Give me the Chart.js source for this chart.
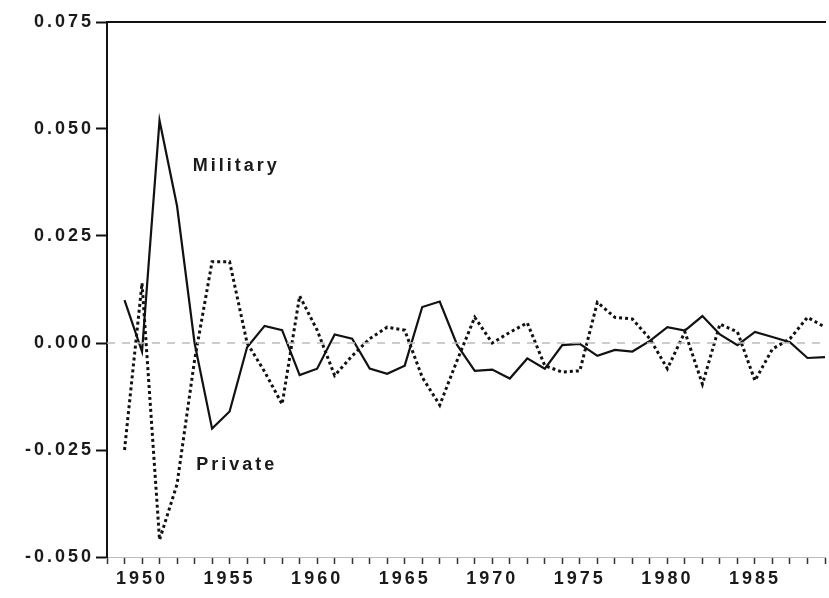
<!DOCTYPE html>
<html>
<head>
<meta charset="utf-8">
<script src="https://cdn.jsdelivr.net/npm/chart.js@4/dist/chart.umd.min.js"></script>
<style>
  body { margin: 0; background: #fff; }
  #wrap { width: 829px; height: 598px; }
</style>
</head>
<body>
<div id="wrap"><canvas id="c" width="829" height="598"></canvas></div>
<script>
// years on the x axis
const years = [1949,1950,1951,1952,1953,1954,1955,1956,1957,1958,1959,1960,1961,1962,1963,1964,1965,1966,1967,1968,
  1969,1970,1971,1972,1973,1974,1975,1976,1977,1978,1979,1980,1981,1982,1983,1984,1985,1986,1987,1988,1989];

// solid line
const military = [0.010,-0.002,0.052,0.032,0.000,-0.020,-0.016,-0.001,0.004,0.003,-0.0075,-0.006,0.002,0.001,-0.006,-0.0072,-0.0053,0.0084,0.0097,-0.0005,
  -0.0065,-0.0062,-0.0083,-0.0036,-0.006,-0.0005,-0.0002,-0.003,-0.0016,-0.002,0.0005,0.0037,0.0029,0.0063,0.002,-0.0005,0.0026,0.0014,0.0002,-0.0035,-0.0033];

// dotted line
const privateInv = [-0.025,0.014,-0.046,-0.033,-0.004,0.019,0.019,0.000,-0.0067,-0.0143,0.011,0.003,-0.0076,-0.003,0.001,0.0037,0.003,-0.008,-0.0145,-0.004,
  0.006,0.000,0.0025,0.0047,-0.0053,-0.0068,-0.0065,0.0095,0.006,0.0056,0.001,-0.006,0.0026,-0.0096,0.0044,0.0026,-0.0088,-0.0014,0.001,0.006,0.0037];

// zero reference line ends
const zeroLine = [{x: 1948, y: 0}, {x: 1989, y: 0}];

// axis ticks
const xRange = [1948, 1989];
const yTicks = [-0.050, -0.025, 0.000, 0.025, 0.050, 0.075];

// series names written inside the plot, with their data position
const seriesLabels = [
  {text: 'Military', x: 1952.9, y: 0.0413},
  {text: 'Private', x: 1953.1, y: -0.0285},
];

const TXT = '#1a1a1a';
const FAMILY = '"Liberation Sans", Arial, sans-serif';
const SPACING = '3px';

//글자 간격 (letter spacing) - canvas state is reset on resize so set it every time
const spacingPlugin = {
  id: 'spacing',
  beforeLayout(chart) { chart.ctx.letterSpacing = SPACING; },
  beforeDraw(chart) { chart.ctx.letterSpacing = SPACING; },
};

// names of the two series
const labelPlugin = {
  id: 'seriesLabels',
  afterDatasetsDraw(chart) {
    const {ctx, scales} = chart;
    ctx.save();
    ctx.letterSpacing = SPACING;
    ctx.font = 'bold 18px ' + FAMILY;
    ctx.fillStyle = TXT;
    ctx.textAlign = 'left';
    ctx.textBaseline = 'middle';
    seriesLabels.forEach(l => {
      ctx.fillText(l.text, scales.x.getPixelForValue(l.x), scales.y.getPixelForValue(l.y));
    });
    ctx.restore();
  }
};

new Chart(document.getElementById('c'), {
  type: 'line',
  data: {
    datasets: [
      {
        label: 'zero',
        data: zeroLine,
        borderColor: '#c4b8b8',
        borderWidth: 1.5,
        borderDash: [8, 7],
        pointRadius: 0,
      },
      {
        label: 'Military',
        data: years.map((y, i) => ({x: y, y: military[i]})),
        borderColor: '#111',
        borderWidth: 2.2,
        pointRadius: 0,
        tension: 0,
      },
      {
        label: 'Private',
        data: years.map((y, i) => ({x: y, y: privateInv[i]})),
        borderColor: '#111',
        borderWidth: 3,
        borderDash: [3, 3],
        pointRadius: 0,
        tension: 0,
      },
    ],
  },
  options: {
    responsive: false,
    animation: false,
    devicePixelRatio: 1,
    layout: { padding: { top: 22, left: 0, right: 0, bottom: 0 } },
    plugins: {
      legend: { display: false },
      tooltip: { enabled: false },
    },
    scales: {
      x: {
        type: 'linear',
        position: 'bottom',
        min: xRange[0],
        max: xRange[1],
        afterFit(scale) { scale.height = 41; },
        ticks: {
          stepSize: 1,
          autoSkip: false,
          maxRotation: 0,
          padding: 4,
          color: TXT,
          font: { family: FAMILY, size: 18, weight: 'bold' },
          callback: v => (v % 5 === 0 ? String(v) : ''),
        },
        grid: {
          drawOnChartArea: false,
          drawTicks: true,
          tickLength: 7,
          tickColor: '#333',
          tickWidth: 1.5,
        },
        border: { display: true, color: '#bbb', width: 1, dash: [3, 2] },
      },
      x2: {
        type: 'linear',
        position: 'top',
        min: xRange[0],
        max: xRange[1],
        afterFit(scale) { scale.height = 0; },
        ticks: { display: false },
        grid: { display: false, drawTicks: false },
        border: { display: true, color: '#111', width: 2 },
      },
      y: {
        min: yTicks[0],
        max: yTicks[yTicks.length - 1],
        afterFit(scale) { scale.width = 107; },
        afterBuildTicks(scale) { scale.ticks = yTicks.map(v => ({value: v})); },
        ticks: {
          padding: 2,
          color: TXT,
          font: { family: FAMILY, size: 18, weight: 'bold' },
          callback: v => v.toFixed(3),
        },
        grid: {
          drawOnChartArea: false,
          drawTicks: true,
          tickLength: 11,
          tickColor: '#111',
          tickWidth: 2,
        },
        border: { display: true, color: '#111', width: 2 },
      },
    },
  },
  plugins: [spacingPlugin, labelPlugin],
});
</script>
</body>
</html>
